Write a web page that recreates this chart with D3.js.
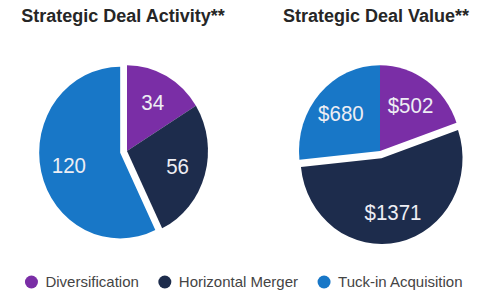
<!DOCTYPE html>
<html>
<head>
<meta charset="utf-8">
<script src="https://cdn.jsdelivr.net/npm/d3@7"></script>
<style>
  body { margin: 0; background: #fff; }
  svg { display: block; font-family: 'Liberation Sans', Arial, Helvetica, sans-serif; }
</style>
</head>
<body>
<div id="chart"></div>
<script>
const categories = ['Diversification', 'Horizontal Merger', 'Tuck-in Acquisition'];
const activityValues = [34, 56, 120];
const dealValues = [502, 1371, 680];
const titles = ['Strategic Deal Activity**', 'Strategic Deal Value**'];

const width = 500;
const height = 300;
const radius = 81;
const stretch = 1.06; // the reference pies are a bit taller than wide
const explode = 7;

const color = d3.scaleOrdinal()
  .domain(categories)
  .range(['#7a2ea6', '#1d2c4c', '#1877c7']);

const svg = d3.select('#chart').append('svg')
  .attr('width', width)
  .attr('height', height);

const pie = d3.pie()
  .sort(null)
  .value(d => d.value);

const arc = d3.arc()
  .innerRadius(0)
  .outerRadius(radius);

const labelArc = d3.arc()
  .innerRadius(radius * 0.65)
  .outerRadius(radius * 0.65);

function drawPie(cx, title, values, fmt) {
  const data = categories.map((c, i) => ({ key: c, value: values[i] }));
  const biggest = d3.max(values);

  svg.append('text')
    .attr('x', cx - 4)
    .attr('y', 22)
    .attr('text-anchor', 'middle')
    .attr('font-size', 18)
    .attr('font-weight', 'bold')
    .attr('fill', '#262626')
    .text(title);

  const g = svg.append('g')
    .attr('transform', `translate(${cx},151) scale(1,${stretch})`);

  const slices = g.selectAll('.slice')
    .data(pie(data))
    .enter().append('g')
    .attr('class', 'slice')
    .attr('transform', (d) => {
      if (d.data.value !== biggest) return null;
      const a = (d.startAngle + d.endAngle) / 2;
      return `translate(${Math.sin(a) * explode},${-Math.cos(a) * explode})`;
    });

  slices.append('path')
    .attr('d', arc)
    .attr('fill', d => color(d.data.key));

  slices.append('text')
    .attr('transform', d => `translate(${labelArc.centroid(d)})`)
    .attr('dy', '.35em')
    .attr('text-anchor', 'middle')
    .attr('font-size', 20.5)
    .attr('fill', '#eeeef4')
    .text(d => fmt(d.data.value));
}

drawPie(127, titles[0], activityValues, v => `${v}`);
drawPie(380, titles[1], dealValues, v => `$${v}`);

// legend, laid out left to right then centred
const legend = svg.append('g');
let x = 0;
categories.forEach((c) => {
  const item = legend.append('g').attr('transform', `translate(${x},0)`);
  item.append('circle')
    .attr('cx', 6)
    .attr('cy', 0)
    .attr('r', 6.5)
    .attr('fill', color(c));
  const t = item.append('text')
    .attr('x', 20)
    .attr('dy', '.35em')
    .attr('font-size', 15)
    .attr('fill', '#444')
    .text(c);
  x += 20 + t.node().getComputedTextLength() + 20;
});
const legendWidth = x - 20;
legend.attr('transform', `translate(${(width - legendWidth) / 2 - 6},282)`);
</script>
</body>
</html>
